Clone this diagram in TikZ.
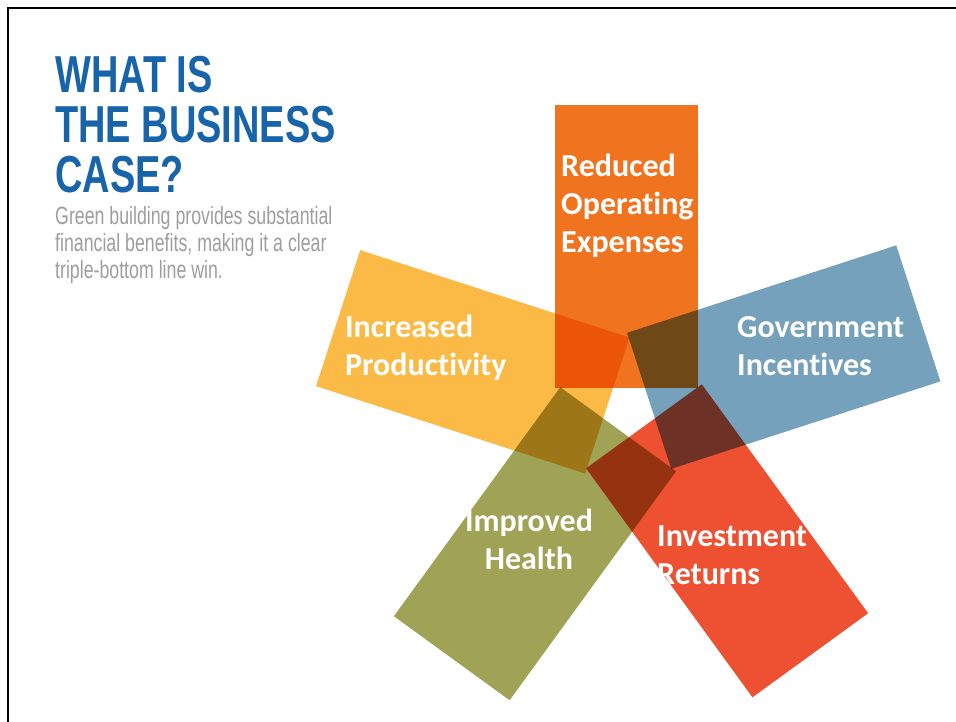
\documentclass[tikz,border=0pt]{standalone}
\usepackage{fontspec}
\newfontfamily\labelfont{Carlito}[Ligatures=NoCommon]
\newfontfamily\condfont{Liberation Sans}[FakeStretch=0.73]
\newfontfamily\blurbfont{Liberation Sans}[FakeStretch=0.71]
\definecolor{titleblue}{HTML}{1864AB}
\definecolor{subgray}{HTML}{9E9E9E}
\definecolor{orangefill}{HTML}{F07420}
\definecolor{bluefill}{HTML}{75A1BD}
\definecolor{redfill}{HTML}{EE5032}
\definecolor{greenfill}{HTML}{A0A355}
\definecolor{yellowfill}{HTML}{FBBA45}
\begin{document}
\begin{tikzpicture}[x=1pt,y=-1pt,
  petal/.style={blend mode=multiply},
  lbl/.style={text=white, font=\labelfont\bfseries\fontsize{32}{38}\selectfont,
    align=left, anchor=base west, inner sep=0pt},
  headline/.style={text=titleblue, font=\condfont\bfseries\fontsize{52}{50}\selectfont,
    align=left, anchor=base west, inner sep=0pt},
  blurb/.style={text=subgray, font=\blurbfont\fontsize{25}{27}\selectfont,
    align=left, anchor=base west, inner sep=0pt}]
\useasboundingbox (0,0) rectangle (956,722);
\fill[white] (0,0) rectangle (956,722);
% slide frame
\draw[line width=2.5pt] (8,722) -- (8,8) -- (956,8);
% five petals turned about the centre of the star
\coordinate (C) at (629,410);
\fill[orangefill, petal] (555,105) rectangle (698,388);
\fill[bluefill, petal, rotate around={-72:(C)}] (555,105) rectangle (698,388);
\fill[redfill, petal, rotate around={-144:(C)}] (555,105) rectangle (698,388);
\fill[greenfill, petal, rotate around={-216:(C)}] (555,105) rectangle (698,388);
\fill[yellowfill, petal, rotate around={-288:(C)}] (555,105) rectangle (698,388);
% petal labels (anchored at the baseline of the last line)
\node[lbl] (reduced) at (561,253) {Reduced\\Operating\\Expenses};
\node[lbl] (productivity) at (345,375) {Increased\\Productivity};
\node[lbl] (incentives) at (737,375) {Government\\Incentives};
\node[lbl, align=center, anchor=base] (health) at (529,569) {Improved\\Health};
\node[lbl] (returns) at (657,584) {Investment\\Returns};
% heading and blurb
\node[headline] (title) at (55,193) {WHAT IS\\THE BUSINESS\\CASE?};
\node[blurb] (blurb) at (55,278) {Green building provides substantial\\financial benefits, making it a clear\\triple-bottom line win.};
\end{tikzpicture}
\end{document}
